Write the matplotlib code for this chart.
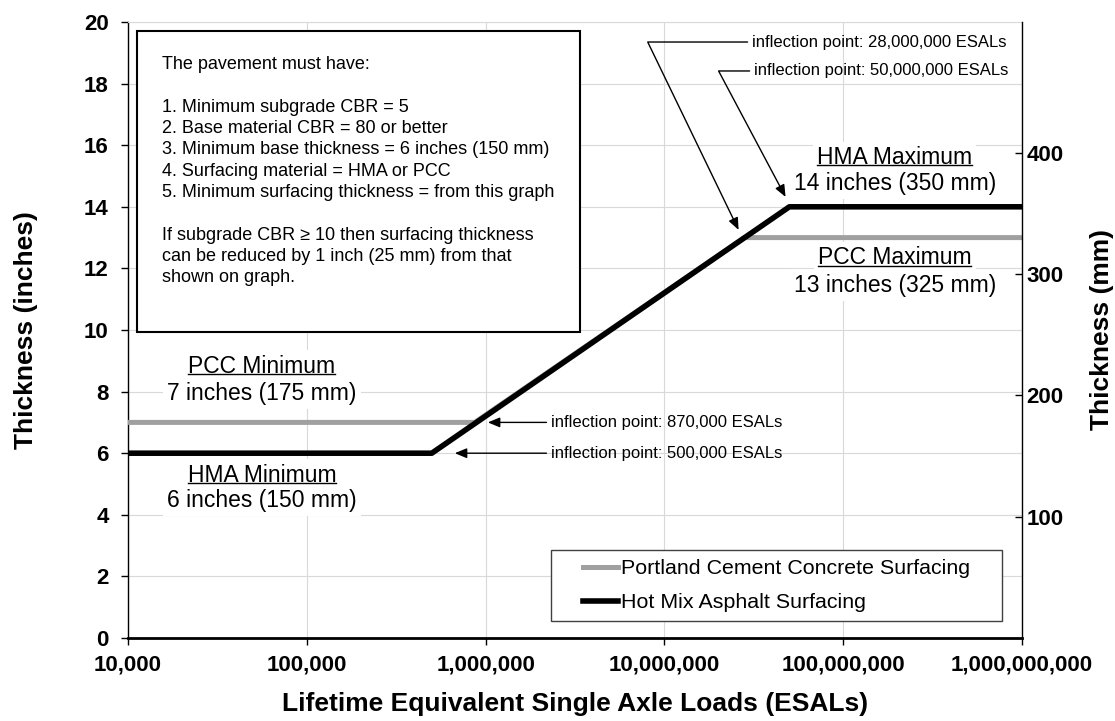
import math
import matplotlib
matplotlib.use('Agg')
import matplotlib.pyplot as plt
from matplotlib.patches import Rectangle
from matplotlib.lines import Line2D
from matplotlib.legend_handler import HandlerLine2D

plt.rcParams['font.family'] = ['Liberation Sans', 'DejaVu Sans']

# data
esal_pcc = [1e4, 8.7e5, 2.8e7, 1e9]
thick_pcc = [7, 7, 13, 13]
esal_hma = [1e4, 5e5, 5e7, 1e9]
thick_hma = [6, 6, 14, 14]

x_ticks = [1e4, 1e5, 1e6, 1e7, 1e8, 1e9]
y_ticks = list(range(0, 21, 2))
mm_ticks = [100, 200, 300, 400]

box_text = ("The pavement must have:\n\n"
            "1. Minimum subgrade CBR = 5\n"
            "2. Base material CBR = 80 or better\n"
            "3. Minimum base thickness = 6 inches (150 mm)\n"
            "4. Surfacing material = HMA or PCC\n"
            "5. Minimum surfacing thickness = from this graph\n\n"
            "If subgrade CBR \u2265 10 then surfacing thickness\n"
            "can be reduced by 1 inch (25 mm) from that\n"
            "shown on graph.")

GRAY = '#a0a0a0'
GRID = '#d9d9d9'

fig = plt.figure(figsize=(11.15, 7.21), dpi=100)
ax = fig.add_axes([128 / 1115, 83 / 721, 894 / 1115, 616 / 721])

ax.set_xscale('log')
ax.set_xlim(1e4, 1e9)
ax.set_ylim(0, 20)

ax.plot(esal_pcc, thick_pcc, color=GRAY, lw=3.6, zorder=3,
        label='Portland Cement Concrete Surfacing')
ax.plot(esal_hma, thick_hma, color='black', lw=4, zorder=4,
        label='Hot Mix Asphalt Surfacing')

# axes, ticks, grid
ax.set_xticks(x_ticks)
ax.set_xticklabels([f'{int(v):,}' for v in x_ticks])
ax.xaxis.set_minor_locator(matplotlib.ticker.NullLocator())
ax.set_yticks(y_ticks)
ax.grid(True, color=GRID, lw=0.8)
ax.set_axisbelow(True)
ax.tick_params(axis='both', labelsize=16, length=5, width=1, direction='out')
ax.tick_params(axis='x', pad=7)
ax.tick_params(axis='y', pad=9)
for lbl in ax.get_xticklabels() + ax.get_yticklabels():
    lbl.set_fontweight('bold')

ax.spines['top'].set_color(GRID)
ax.spines['right'].set_visible(False)
ax.spines['bottom'].set_linewidth(2)
ax.spines['left'].set_linewidth(1)

ax.set_xlabel('Lifetime Equivalent Single Axle Loads (ESALs)', fontsize=19,
              fontweight='bold', va='center')
ax.xaxis.set_label_coords(0.5, -0.107)
ax.set_ylabel('Thickness (inches)', fontsize=19, fontweight='bold', va='center')
ax.yaxis.set_label_coords(-0.114, 0.5)

# secondary axis in mm
ax2 = ax.twinx()
ax2.set_ylim(0, 20 * 25.4)
ax2.set_yticks(mm_ticks)
ax2.tick_params(axis='y', direction='in', length=5, width=1, labelsize=16, pad=3)
for lbl in ax2.get_yticklabels():
    lbl.set_fontweight('bold')
for s in ['top', 'left', 'bottom']:
    ax2.spines[s].set_visible(False)
ax2.spines['right'].set_linewidth(1)
ax2.set_ylabel('Thickness (mm)', fontsize=19, fontweight='bold', va='center')
ax2.yaxis.set_label_coords(1.0895, 0.5)

# note box
ax.add_patch(Rectangle((0.01, 0.497), 0.4955, 0.488, transform=ax.transAxes,
                       facecolor='white', edgecolor='black', lw=1.5, zorder=5))
ax.text(0.038, 0.9445, box_text, transform=ax.transAxes, fontsize=13,
        va='top', ha='left', linespacing=1.33, zorder=6)

# min / max labels
heads = []
def level_label(x, y_head, y_sub, head, sub):
    kw = dict(ha='center', va='center', fontsize=16.5, zorder=5,
              bbox=dict(fc='white', ec='none', pad=3))
    t = ax.text(x, y_head, head, **kw)
    ax.text(x, y_sub, sub, **kw)
    heads.append(t)

level_label(5.61e4, 8.83, 7.95, 'PCC Minimum', '7 inches (175 mm)')
level_label(5.61e4, 5.29, 4.48, 'HMA Minimum', '6 inches (150 mm)')
level_label(1.94e8, 15.6, 14.77, 'HMA Maximum', '14 inches (350 mm)')
level_label(1.94e8, 12.34, 11.46, 'PCC Maximum', '13 inches (325 mm)')

# inflection point call-outs
def arrow_kw(conn='arc3'):
    return dict(arrowstyle='-|>,head_length=0.6,head_width=0.25', color='black',
                lw=1, shrinkA=1, shrinkB=0, relpos=(0, 0.5), connectionstyle=conn)

ax.annotate('inflection point: 870,000 ESALs', xy=(1.03e6, 7.0), xytext=(2.31e6, 7.0),
            fontsize=12, va='center', ha='left', arrowprops=arrow_kw(), zorder=6)
ax.annotate('inflection point: 500,000 ESALs', xy=(6.73e5, 6.0), xytext=(2.31e6, 6.0),
            fontsize=12, va='center', ha='left', arrowprops=arrow_kw(), zorder=6)

def elbow_angle(tip, elbow):
    p0 = ax.transData.transform(tip)
    p1 = ax.transData.transform(elbow)
    return math.degrees(math.atan2(p1[1] - p0[1], p1[0] - p0[0]))

top_calls = [
    ('inflection point: 28,000,000 ESALs', (2.60e7, 13.25), (3.08e7, 19.35), 8.07e6),
    ('inflection point: 50,000,000 ESALs', (4.76e7, 14.32), (3.16e7, 18.41), 2.01e7),
]
for txt, tip, pos, ex in top_calls:
    ang = elbow_angle(tip, (ex, pos[1]))
    ax.annotate(txt, xy=tip, xytext=pos, fontsize=12, va='center', ha='left',
                arrowprops=arrow_kw(f'angle,angleA=0,angleB={ang:.2f},rad=0'),
                zorder=6)

# legend
leg = ax.legend(loc='lower left', bbox_to_anchor=(0.473, 0.0276, 0.5045, 0.13),
                mode='expand', borderaxespad=0, fontsize=15.4, fancybox=False,
                edgecolor='#404040', framealpha=1, handlelength=2.73,
                handletextpad=0.15, labelspacing=0.72, borderpad=0.4,
                handler_map={Line2D: HandlerLine2D(xpad=1.09)})
leg.get_frame().set_linewidth(1.0)
leg.set_zorder(7)

# underline the level headings
fig.canvas.draw()
inv = fig.transFigure.inverted()
for t in heads:
    bb = t.get_window_extent()
    y = bb.y0 + 0.17 * bb.height
    (x0, yf), (x1, _) = inv.transform([(bb.x0, y), (bb.x1, y)])
    fig.add_artist(Line2D([x0, x1], [yf, yf], color='black', lw=1, zorder=10))

fig.savefig('out.png', dpi=100)
